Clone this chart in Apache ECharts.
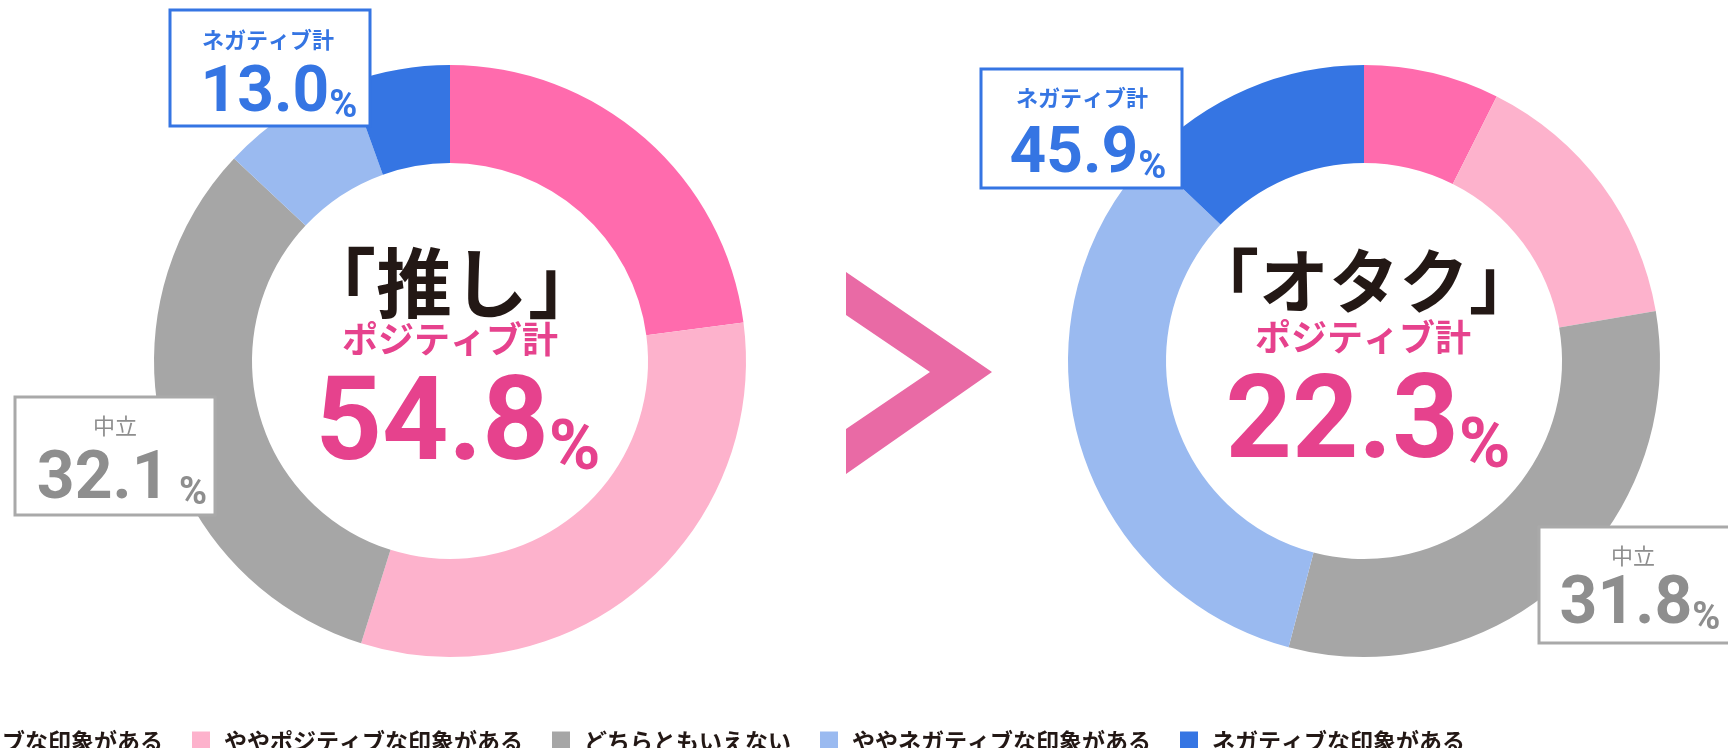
<!DOCTYPE html>
<html>
<head>
<meta charset="utf-8">
<script src="https://cdn.jsdelivr.net/npm/echarts@6/dist/echarts.min.js"></script>
<style>
html,body{margin:0;padding:0;background:#fff;}
#chart{width:1728px;height:748px;}
</style>
</head>
<body>
<div id="chart"></div>
<script>
// ---- data ----
const categories = ['ポジティブな印象がある', 'ややポジティブな印象がある', 'どちらともいえない', 'ややネガティブな印象がある', 'ネガティブな印象がある'];
const oshiValues = [22.9, 31.9, 32.1, 7.5, 5.5];
const otakuValues = [7.4, 14.9, 31.8, 33.0, 12.9];
const chartTitles = ['「推し」', '「オタク」'];
const positiveLabel = 'ポジティブ計';
const negativeLabel = 'ネガティブ計';
const neutralLabel = '中立';

// ---- styles ----
const colors = ['#FF6BAD', '#FDB2CC', '#A6A6A6', '#9ABAF0', '#3575E3'];
const pinkText = '#E6428D';
const blueText = '#3575E3';
const grayText = '#8E8E8E';
const grayBorder = '#A9A9A9';
const jp = '"Noto Sans CJK JP", sans-serif';
const num = 'Roboto, "Noto Sans", sans-serif';

function totals(v) {
  return {
    pos: (v[0] + v[1]).toFixed(1),
    neu: v[2].toFixed(1),
    neg: (v[3] + v[4]).toFixed(1)
  };
}
const tOshi = totals(oshiValues);
const tOtaku = totals(otakuValues);

function pie(name, values, cx) {
  return {
    type: 'pie',
    name: name,
    center: [cx, 361],
    radius: [198, 296],
    startAngle: 90,
    clockwise: true,
    label: { show: false },
    labelLine: { show: false },
    emphasis: { disabled: true },
    silent: true,
    data: categories.map((c, i) => ({ name: c, value: values[i], itemStyle: { color: colors[i] } }))
  };
}

function txt(x, y, text, size, color, family, weight) {
  return { type: 'text', z: 20, x: x, y: y,
    style: { text: text, fill: color, font: (weight || 'bold') + ' ' + size + 'px ' + family, align: 'center', verticalAlign: 'middle' } };
}
function numTxt(x, y, value, size, pSize, color, sep) {
  return { type: 'text', z: 20, x: x, y: y,
    style: {
      text: '{n|' + value + '}{p|' + (sep || '') + '%}',
      align: 'center', verticalAlign: 'middle',
      rich: {
        n: { fontFamily: num, fontWeight: 'bold', fontSize: size, fill: color, color: color, verticalAlign: 'bottom', lineHeight: size },
        p: { fontFamily: num, fontWeight: 'bold', fontSize: pSize, fill: color, color: color, verticalAlign: 'bottom', lineHeight: size, padding: [0, 0, Math.round(size * 0.02), 0] }
      }
    } };
}
function box(x, y, w, h, stroke) {
  return { type: 'rect', z: 15, shape: { x: x, y: y, width: w, height: h },
    style: { fill: '#fff', stroke: stroke, lineWidth: 3 } };
}

const graphics = [
  // chevron ">"
  { type: 'polygon', z: 5, shape: { points: [[846, 272], [992, 372], [846, 474], [846, 429], [930, 372], [846, 315]] },
    style: { fill: '#E96AA5' } },
  // left donut center
  txt(452, 283, chartTitles[0], 76, '#231815', jp),
  txt(450, 339, positiveLabel, 36, pinkText, jp),
  numTxt(458, 430, tOshi.pos, 116, 70, pinkText),
  // right donut center
  txt(1364, 281, chartTitles[1], 70, '#231815', jp),
  txt(1363, 337, positiveLabel, 36, pinkText, jp),
  numTxt(1368, 428, tOtaku.pos, 116, 70, pinkText),
  // left negative box
  box(170, 10, 200, 116, blueText),
  txt(268, 40, negativeLabel, 22, blueText, jp),
  numTxt(279, 95, tOshi.neg, 64, 38, blueText),
  // left neutral box
  box(15, 397, 200, 118, grayBorder),
  txt(115, 426, neutralLabel, 22, grayText, jp, 'normal'),
  numTxt(122, 481, tOshi.neu, 66, 38, grayText, ' '),
  // right negative box
  box(981, 69, 201, 119, blueText),
  txt(1082, 98, negativeLabel, 22, blueText, jp),
  numTxt(1088, 156, tOtaku.neg, 64, 38, blueText),
  // right neutral box
  box(1539, 527, 200, 116, grayBorder),
  txt(1633, 556, neutralLabel, 22, grayText, jp, 'normal'),
  numTxt(1640, 606, tOtaku.neu, 66, 38, grayText)
];

const chart = echarts.init(document.getElementById('chart'));
chart.setOption({
  backgroundColor: '#fff',
  animation: false,
  legend: {
    data: categories,
    left: -127,
    top: 725,
    orient: 'horizontal',
    icon: 'rect',
    itemWidth: 18,
    itemHeight: 20,
    itemGap: 29,
    selectedMode: false,
    textStyle: { fontFamily: jp, fontWeight: 'bold', fontSize: 23, color: '#231815', padding: [0, 0, 0, 9] }
  },
  series: [pie(chartTitles[0], oshiValues, 450), pie(chartTitles[1], otakuValues, 1364)],
  graphic: graphics
});
</script>
</body>
</html>
